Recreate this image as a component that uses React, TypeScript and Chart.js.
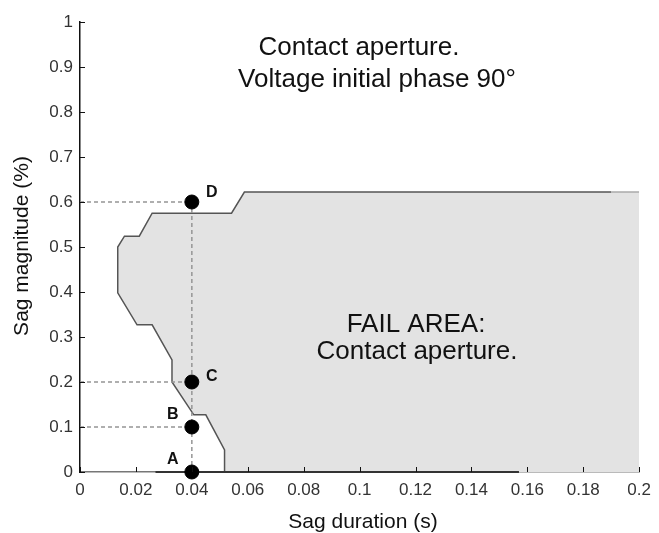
import React, { useEffect, useRef } from "react";
import { Chart, registerables } from "chart.js";

Chart.register(...registerables);

// ---- data ----
const xTicks = [0, 0.02, 0.04, 0.06, 0.08, 0.1, 0.12, 0.14, 0.16, 0.18, 0.2];
const yTicks = [0, 0.1, 0.2, 0.3, 0.4, 0.5, 0.6, 0.7, 0.8, 0.9, 1];

// boundary of the fail area (ordered by sag magnitude)
const boundaryX = [0.0517, 0.0517, 0.045, 0.0407, 0.0329, 0.0329, 0.0258, 0.0204, 0.0135, 0.0135, 0.0159, 0.0212, 0.0258, 0.0542, 0.0588, 0.19, 0.2];
const boundaryY = [0, 0.049, 0.127, 0.127, 0.2, 0.249, 0.327, 0.327, 0.398, 0.5, 0.524, 0.524, 0.575, 0.575, 0.622, 0.622, 0.622];

const pointLabels = ["A", "B", "C", "D"];
const pointDuration = [0.04, 0.04, 0.04, 0.04];
const pointMagnitude = [0, 0.1, 0.2, 0.6];

const axisDarkFrom = 0.027;
const axisDarkTo = 0.157;

const titleLines = ["Contact aperture.", "Voltage initial phase 90°"];
const failLines = ["FAIL AREA:", "Contact aperture."];
const xTitle = "Sag duration (s)";
const yTitle = "Sag magnitude (%)";

const FONT = '"Liberation Sans", Arial, sans-serif';

const overlayPlugin = {
  id: "overlay",
  afterDraw(chart: any) {
    const { ctx, chartArea, scales } = chart;
    const xs = scales.x;
    const ys = scales.y;
    ctx.save();
    // inward tick marks
    ctx.strokeStyle = "#111";
    ctx.lineWidth = 1;
    xTicks.forEach((v) => {
      const px = Math.round(xs.getPixelForValue(v)) + 0.5;
      ctx.beginPath();
      ctx.moveTo(px, chartArea.bottom);
      ctx.lineTo(px, chartArea.bottom - 5);
      ctx.stroke();
    });
    yTicks.forEach((v) => {
      const py = Math.round(ys.getPixelForValue(v)) + 0.5;
      ctx.beginPath();
      ctx.moveTo(chartArea.left, py);
      ctx.lineTo(chartArea.left + 5, py);
      ctx.stroke();
    });

    // point letters
    const offsets = [
      [-19, -12],
      [-19, -12],
      [20, -5],
      [20, -9],
    ];
    ctx.fillStyle = "#111";
    ctx.font = "bold 16px " + FONT;
    ctx.textAlign = "center";
    ctx.textBaseline = "middle";
    pointLabels.forEach((lab, i) => {
      const px = xs.getPixelForValue(pointDuration[i]);
      const py = ys.getPixelForValue(pointMagnitude[i]);
      ctx.fillText(lab, px + offsets[i][0], py + offsets[i][1]);
    });

    // titles
    ctx.fillStyle = "#111";
    ctx.font = "26px " + FONT;
    ctx.fillText(titleLines[0], 359, 48);
    ctx.fillText(titleLines[1], 377, 80);
    ctx.fillText(failLines[0], 416, 325);
    ctx.fillText(failLines[1], 417, 352);

    // axis titles
    ctx.font = "21px " + FONT;
    ctx.fillText(xTitle, 363, 522);
    ctx.save();
    ctx.translate(22, 246);
    ctx.rotate(-Math.PI / 2);
    ctx.fillText(yTitle, 0, 0);
    ctx.restore();
    ctx.restore();
  },
};

export default function App() {
  const ref = useRef<HTMLCanvasElement | null>(null);
  useEffect(() => {
    if (!ref.current) return;
    const boundary = boundaryX.map((x, i) => ({ x, y: boundaryY[i] }));
    const dots = pointDuration.map((x, i) => ({ x, y: pointMagnitude[i] }));
    const dash = (pts: { x: number; y: number }[]) => ({
      type: "line" as const,
      data: pts,
      borderColor: "#959595",
      borderWidth: 1.5,
      borderDash: [4, 3],
      pointRadius: 0,
      fill: false,
      order: 3,
    });
    const d = pointDuration[0];
    const chart = new Chart(ref.current, {
      type: "line",
      data: {
        datasets: [
          {
            type: "scatter",
            data: dots,
            pointRadius: 7,
            pointBackgroundColor: "#000",
            pointBorderColor: "#000",
            showLine: false,
            clip: false,
            order: 0,
          } as any,
          dash([{ x: 0, y: pointMagnitude[3] }, { x: d, y: pointMagnitude[3] }]),
          dash([{ x: 0, y: pointMagnitude[2] }, { x: d, y: pointMagnitude[2] }]),
          dash([{ x: 0, y: pointMagnitude[1] }, { x: d, y: pointMagnitude[1] }]),
          dash([{ x: d, y: pointMagnitude[3] }, { x: d, y: pointMagnitude[0] }]),
          {
            type: "line",
            data: [
              { x: axisDarkFrom, y: 0 },
              { x: axisDarkTo, y: 0 },
            ],
            borderColor: "#333",
            borderWidth: 2,
            pointRadius: 0,
            clip: false,
            order: 2,
          } as any,
          {
            type: "line",
            indexAxis: "y",
            data: boundary,
            borderColor: "#555",
            borderWidth: 1.5,
            backgroundColor: "#e3e3e3",
            fill: { value: 0.2 },
            pointRadius: 0,
            tension: 0,
            order: 10,
            segment: {
              borderColor: (c: any) => (c.p0DataIndex >= boundaryX.length - 2 ? "#aaa" : "#555"),
            },
          } as any,
        ],
      },
      options: {
        animation: false,
        responsive: false,
        devicePixelRatio: 1,
        layout: { padding: { top: 22, right: 14, left: 0, bottom: 0 } },
        plugins: { legend: { display: false }, tooltip: { enabled: false } },
        scales: {
          x: {
            type: "linear",
            min: 0,
            max: 0.2,
            afterFit: (s: any) => {
              s.height = 61;
            },
            afterBuildTicks: (s: any) => {
              s.ticks = xTicks.map((v) => ({ value: v }));
            },
            grid: { display: false, drawTicks: false },
            border: { display: true, color: "#777", width: 1.5 },
            ticks: {
              padding: 8,
              color: "#333",
              font: { family: FONT, size: 17 },
              callback: (v: any) => String(Number(v)),
              maxRotation: 0,
              autoSkip: false,
            },
          },
          y: {
            type: "linear",
            min: 0,
            max: 1,
            afterFit: (s: any) => {
              s.width = 80;
            },
            afterBuildTicks: (s: any) => {
              s.ticks = yTicks.map((v) => ({ value: v }));
            },
            grid: { display: false, drawTicks: false },
            border: { display: true, color: "#111", width: 1.5 },
            ticks: {
              padding: 7,
              color: "#333",
              font: { family: FONT, size: 17 },
              callback: (v: any) => String(Number(v)),
              autoSkip: false,
            },
          },
        },
      },
      plugins: [overlayPlugin],
    });
    return () => chart.destroy();
  }, []);
  return (
    <div style={{ position: "fixed", left: 0, top: 0, width: 659, height: 533, background: "#fff" }}>
      <canvas ref={ref} width={659} height={533} style={{ display: "block" }} />
    </div>
  );
}
